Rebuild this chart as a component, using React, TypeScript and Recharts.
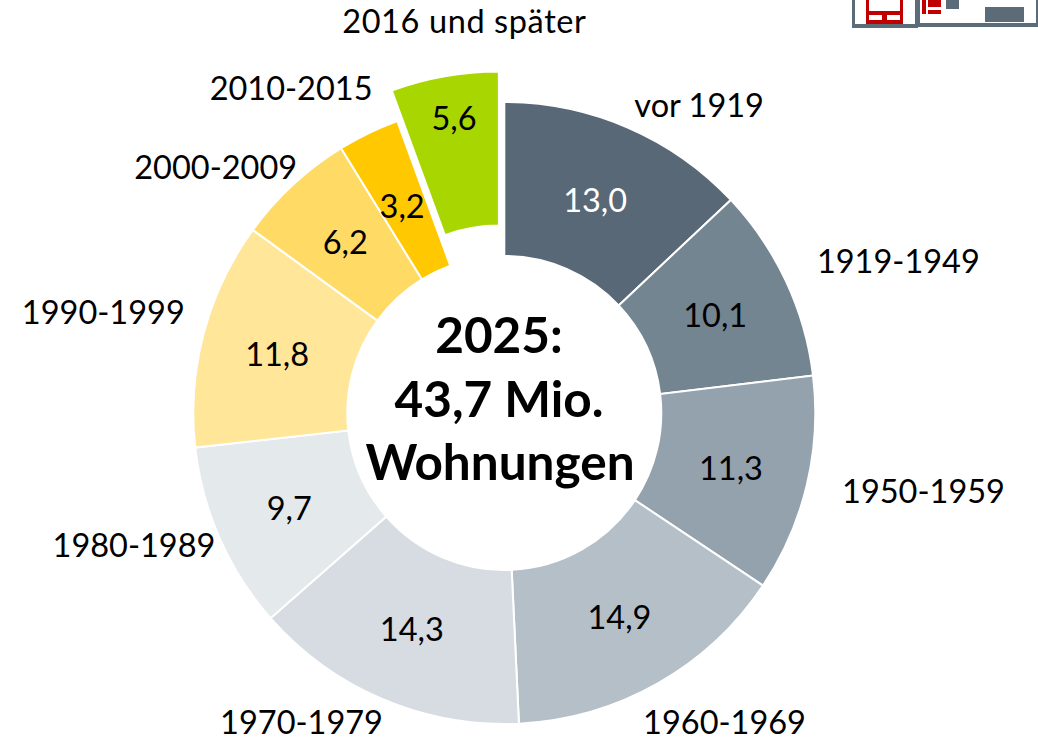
import { PieChart, Pie, Cell, Sector } from 'recharts';

const categories = ['vor 1919', '1919-1949', '1950-1959', '1960-1969', '1970-1979', '1980-1989', '1990-1999', '2000-2009', '2010-2015', '2016 und später'];
const shares = [13.0, 10.1, 11.3, 14.9, 14.3, 9.7, 11.8, 6.2, 3.2, 5.6];
const colors = ['#596876', '#748592', '#94a2ae', '#b5bfc8', '#d6dce2', '#e4e9ec', '#ffe699', '#ffdb66', '#ffc800', '#a8d600'];
const centerLines = ['2025:', '43,7 Mio.', 'Wohnungen'];

// label tweaks by hand, relative to the spot on the ring
const nameNudge = [[52, 22], [68, 0], [69, -6], [43, -5], [-62, -23], [-41, -14], [-53, -9], [-44, 18], [-56, -2], [23, -38]];
const valueNudge = [[-2, 1], [-1, 1], [-1, 0], [0, 0], [-1, 0], [-1, 0], [-1, 0], [0, 0], [0, 3], [-4, -35]];
const explode = [0, 0, 0, 0, 0, 0, 0, 0, 0, 31];

const RAD = Math.PI / 180;
const font = 'Lato, sans-serif';
const tableData = categories.map((name, i) => ({ name, value: shares[i] }));

function SliceShape(props: any) {
  const i = props.index;
  const dx = Math.cos(-props.midAngle * RAD) * explode[i];
  const dy = Math.sin(-props.midAngle * RAD) * explode[i];
  return <Sector {...props} cx={props.cx + dx} cy={props.cy + dy} fill={colors[i]} stroke="#fff" strokeWidth={2} />;
}

function SliceLabel(props: any) {
  const { cx, cy, midAngle, innerRadius, outerRadius, index, value, name } = props;
  const r = (innerRadius + outerRadius) / 2 + explode[index];
  const x = cx + r * Math.cos(-midAngle * RAD) + valueNudge[index][0];
  const y = cy + r * Math.sin(-midAngle * RAD) + valueNudge[index][1];
  const nx = cx + 360 * Math.cos(-midAngle * RAD) + nameNudge[index][0];
  const ny = cy + 360 * Math.sin(-midAngle * RAD) + nameNudge[index][1];
  return (
    <g fontFamily={font} fontSize={32.5}>
      <text x={x} y={y} textAnchor="middle" dominantBaseline="central" fill={index === 0 ? '#fff' : '#000'}>
        {value.toFixed(1).replace('.', ',')}
      </text>
      <text x={nx} y={ny} textAnchor="middle" dominantBaseline="central" fill="#000" letterSpacing={index === 9 ? 0.6 : 0}>{name}</text>
    </g>
  );
}

// cropped logo strip in the top right corner of the slide
function LogoStrip() {
  const gray = '#5b6b78';
  const red = '#c00000';
  return (
    <svg width={1038} height={40} style={{ position: 'absolute', left: 0, top: 0 }}>
      <rect x={852} y={0} width={3} height={28} fill={gray} />
      <rect x={852} y={24} width={66} height={4} fill={gray} />
      <rect x={915} y={0} width={3} height={28} fill={gray} />
      <rect x={918} y={0} width={2} height={27} fill={gray} />
      <rect x={918} y={23} width={120} height={4} fill={gray} />
      <rect x={1036} y={0} width={2} height={27} fill={gray} />
      <rect x={866} y={0} width={37} height={24} fill={red} />
      <rect x={869} y={0} width={31} height={11} fill="#fff" />
      <rect x={869} y={15} width={13} height={5} fill="#fff" />
      <rect x={887} y={15} width={13} height={5} fill="#fff" />
      <rect x={922} y={0} width={4} height={14} fill={red} />
      <rect x={928} y={0} width={13} height={7} fill={red} />
      <rect x={928} y={10} width={13} height={4} fill={red} />
      <rect x={946} y={0} width={13} height={9} fill={gray} />
      <rect x={985} y={7} width={39} height={15} fill={gray} />
    </svg>
  );
}

export default function App() {
  return (
    <div style={{ position: 'absolute', left: 0, top: 0, width: 1038, height: 740, overflow: 'hidden', background: '#fff' }}>
      <LogoStrip />
      <PieChart width={1038} height={740} margin={{ top: 0, right: 0, bottom: 0, left: 0 }}>
        <Pie
          data={tableData}
          dataKey="value"
          nameKey="name"
          cx={504.3}
          cy={413}
          innerRadius={157}
          outerRadius={311}
          startAngle={90}
          endAngle={-270}
          isAnimationActive={false}
          shape={SliceShape}
          label={SliceLabel}
          labelLine={false}
        >
          {tableData.map((d, i) => <Cell key={d.name} fill={colors[i]} stroke="#fff" strokeWidth={2} />)}
        </Pie>
        <text x={499} y={334} textAnchor="middle" fontFamily={font} fontWeight={700} fontSize={49.5} dominantBaseline="central">{centerLines[0]}</text>
        <text x={499} y={398} textAnchor="middle" fontFamily={font} fontWeight={700} fontSize={49.5} dominantBaseline="central">{centerLines[1]}</text>
        <text x={500} y={461} textAnchor="middle" fontFamily={font} fontWeight={700} fontSize={49.5} dominantBaseline="central">{centerLines[2]}</text>
      </PieChart>
    </div>
  );
}
